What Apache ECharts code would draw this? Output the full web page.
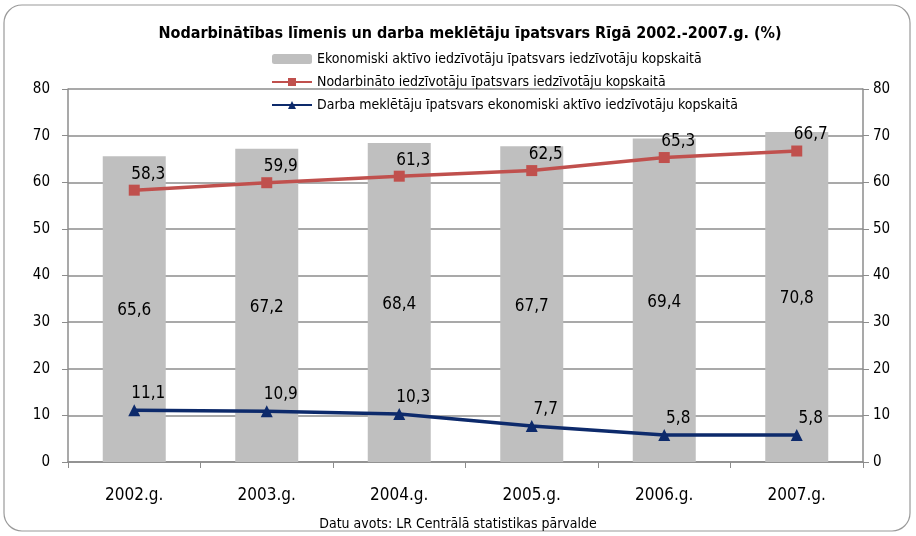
<!DOCTYPE html>
<html>
<head>
<meta charset="utf-8">
<script src="https://cdn.jsdelivr.net/npm/echarts@6/dist/echarts.min.js"></script>
<style>
  html, body { margin: 0; padding: 0; background: #fff; }
  #chart { width: 916px; height: 536px; }
</style>
</head>
<body>
<div id="chart"></div>
<script>
// dati
var years = ['2002.g.', '2003.g.', '2004.g.', '2005.g.', '2006.g.', '2007.g.'];
var aktivie = [65.6, 67.2, 68.4, 67.7, 69.4, 70.8];
var nodarbinatie = [58.3, 59.9, 61.3, 62.5, 65.3, 66.7];
var meklētāji = [11.1, 10.9, 10.3, 7.7, 5.8, 5.8];

var seriesNames = [
  'Ekonomiski aktīvo iedzīvotāju īpatsvars iedzīvotāju kopskaitā',
  'Nodarbināto iedzīvotāju īpatsvars iedzīvotāju kopskaitā',
  'Darba meklētāju īpatsvars ekonomiski aktīvo iedzīvotāju kopskaitā'
];

var FONT = '"Liberation Sans Narrow", "Arial Narrow", "DejaVu Sans Condensed", sans-serif';

function comma(p) {
  return String(p.value).replace('.', ',');
}

var myChart = echarts.init(document.getElementById('chart'));

var option = {
  backgroundColor: '#fff',
  textStyle: { fontFamily: FONT, color: '#000' },
  title: {
    text: 'Nodarbinātības līmenis un darba meklētāju īpatsvars Rīgā 2002.-2007.g. (%)',
    left: 465,
    textAlign: 'center',
    top: 21,
    textStyle: { fontFamily: FONT, fontSize: 16, fontWeight: 'bold', color: '#000' }
  },
  legend: {
    orient: 'vertical',
    left: 266,
    top: 47,
    itemGap: 9,
    itemWidth: 40,
    itemHeight: 10,
    textStyle: { fontFamily: FONT, fontSize: 14, color: '#000' },
    data: seriesNames
  },
  graphic: [{
    type: 'rect',
    shape: { x: 4, y: 5, width: 906, height: 526, r: 18 },
    style: { fill: 'none', stroke: '#9a9a9a', lineWidth: 1.2 },
    z: -1
  }, {
    type: 'text',
    left: 'center',
    top: 517,
    style: {
      text: 'Datu avots: LR Centrālā statistikas pārvalde',
      font: '14px ' + FONT,
      fill: '#000'
    }
  }],
  grid: { left: 68, right: 53, top: 89, bottom: 74 },
  xAxis: {
    type: 'category',
    data: years,
    axisLine: { lineStyle: { color: '#8c8c8c', width: 1.5 } },
    axisTick: { show: true, length: 6, lineStyle: { color: '#8c8c8c' } },
    axisLabel: { fontFamily: FONT, fontSize: 17, color: '#000', margin: 25 }
  },
  yAxis: [{
    type: 'value',
    min: 0, max: 80, interval: 10,
    axisLine: { show: true, lineStyle: { color: '#8c8c8c', width: 1.5 } },
    axisTick: { show: true, length: 6, lineStyle: { color: '#8c8c8c' } },
    axisLabel: { fontFamily: FONT, fontSize: 15, color: '#000', margin: 18 },
    splitLine: { lineStyle: { color: '#8c8c8c', width: 1.5 } }
  }, {
    type: 'value',
    position: 'right',
    min: 0, max: 80, interval: 10,
    axisLine: { show: true, lineStyle: { color: '#8c8c8c', width: 1.5 } },
    axisTick: { show: true, length: 6, lineStyle: { color: '#8c8c8c' } },
    axisLabel: { fontFamily: FONT, fontSize: 15, color: '#000', margin: 10 },
    splitLine: { show: false }
  }],
  series: [{
    name: seriesNames[0],
    type: 'bar',
    barWidth: 63,
    data: aktivie,
    itemStyle: { color: '#bfbfbf' },
    label: {
      show: true, position: 'inside', offset: [0, 2], formatter: comma,
      fontFamily: FONT, fontSize: 17, color: '#000'
    },
    z: 1
  }, {
    name: seriesNames[1],
    type: 'line',
    data: nodarbinatie,
    symbol: 'rect',
    symbolSize: 11,
    lineStyle: { color: '#c0504d', width: 3.5 },
    itemStyle: { color: '#c0504d' },
    label: {
      show: true, position: 'top', offset: [14, 3], formatter: comma,
      fontFamily: FONT, fontSize: 17, color: '#000'
    },
    z: 3
  }, {
    name: seriesNames[2],
    type: 'line',
    data: meklētāji,
    symbol: 'triangle',
    symbolSize: 12,
    lineStyle: { color: '#0d2a6b', width: 3.5 },
    itemStyle: { color: '#0d2a6b' },
    label: {
      show: true, position: 'top', offset: [14, 3], formatter: comma,
      fontFamily: FONT, fontSize: 17, color: '#000'
    },
    z: 3
  }]
};

myChart.setOption(option);
</script>
</body>
</html>
